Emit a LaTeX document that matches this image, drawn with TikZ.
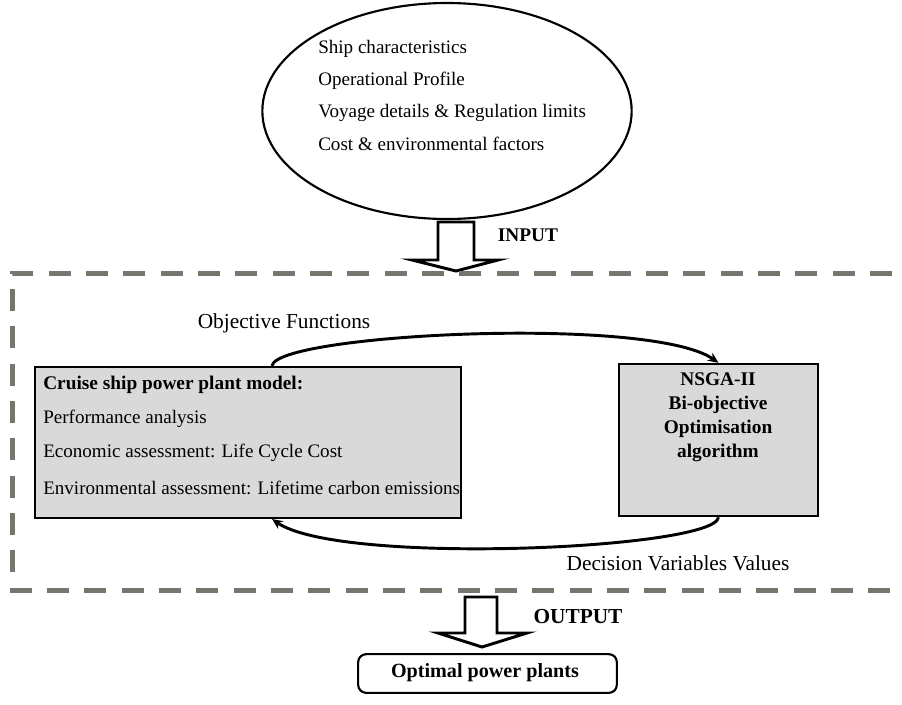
\documentclass[tikz,border=0pt]{standalone}
\usepackage{fontspec}
\setmainfont{Liberation Serif}
\usetikzlibrary{arrows.meta,shapes.geometric}
\definecolor{boxgray}{RGB}{217,217,217}
\definecolor{dashgray}{RGB}{118,118,110}
\tikzset{
  txt/.style={inner sep=0pt, font=\fontsize{14.3}{16}\selectfont},
  lbl/.style={inner sep=0pt, font=\fontsize{16}{18}\selectfont},
  btxt/.style={inner sep=0pt, font=\fontsize{14.5}{17}\selectfont\bfseries},
  graybox/.style={draw=black, line width=1.8pt, fill=boxgray, inner sep=0pt},
  blockarrow/.style={draw=black, line width=2.2pt, fill=white, line join=miter},
  flow/.style={line width=2.2pt, -{Stealth[length=8pt,width=7pt]}},
  frame/.style={draw=dashgray, line width=3.75pt, dash pattern=on 16.5pt off 11.5pt}
}
\begin{document}
\begin{tikzpicture}[x=0.75pt,y=-0.75pt]
\useasboundingbox (0,0) rectangle (902,704);
% input ellipse
\node[draw, ellipse, line width=1.6pt, minimum width=277pt, minimum height=162pt, inner sep=0pt] (inp) at (447,111) {};
\node[txt, anchor=west] (i1) at (318,49) {Ship characteristics};
\node[txt, anchor=west] (i2) at (318,81) {Operational Profile};
\node[txt, anchor=west] (i3) at (318,113) {Voyage details \& Regulation limits};
\node[txt, anchor=west] (i4) at (318,144) {Cost \& environmental factors};
% INPUT block arrow
\draw[blockarrow] (438,222) -- (474,222) -- (474,260) -- (498,260) -- (456,271) -- (412,260) -- (438,260) -- cycle;
\node[btxt] (inlab) at (528,235) {INPUT};
% dashed frame
\draw[frame] (892,273) -- (12,273) -- (12,590) -- (892,590);
% left box
\node[graybox, minimum width=319.5pt, minimum height=113pt] (L) at (248,442.5) {};
\node[btxt, anchor=west] (l1) at (43,385) {Cruise ship power plant model:};
\node[txt, anchor=west] (l2) at (43,419) {Performance analysis};
\node[txt, anchor=west] (l3) at (43,453) {Economic assessment: Life Cycle Cost};
\node[txt, anchor=west] (l4) at (43,488) {Environmental assessment: Lifetime carbon emissions};
% right box
\node[graybox, minimum width=149pt, minimum height=114pt] (R) at (718.5,440) {};
\node[btxt, align=center, font=\fontsize{14.5}{18}\selectfont\bfseries, anchor=north] (r1) at (718,372) {NSGA-II\\Bi-objective\\Optimisation\\algorithm};
% flows
\draw[flow] ([xshift=18pt]L.north) .. controls +(3,-32) and (650,315) .. (R.north);
\node[lbl] (of) at (284,323) {Objective Functions};
\draw[flow] (R.south) .. controls +(-3,32) and (340,566) .. ([xshift=18pt]L.south);
\node[lbl] (dv) at (678,563) {Decision Variables Values};
% OUTPUT block arrow
\draw[blockarrow] (465,597) -- (497,597) -- (497,633) -- (527,633) -- (482,647) -- (438,633) -- (465,633) -- cycle;
\node[btxt, font=\fontsize{16}{18}\selectfont\bfseries] (outlab) at (578,617) {OUTPUT};
% output box
\node[draw, rounded corners=6pt, line width=1.6pt, minimum width=194pt, minimum height=29pt, inner sep=0pt] (O) at (487.5,673.5) {};
\node[btxt, font=\fontsize{15.1}{17}\selectfont\bfseries] (ot) at (485,673) {Optimal power plants};
\end{tikzpicture}
\end{document}
